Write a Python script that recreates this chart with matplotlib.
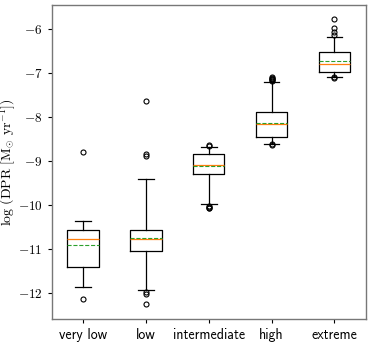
import numpy as np
import matplotlib
matplotlib.use("Agg")
import matplotlib.pyplot as plt
from matplotlib.ticker import FuncFormatter

plt.rcParams['mathtext.fontset'] = 'cm'

# box statistics
labels = ['very low', 'low', 'intermediate', 'high', 'extreme']
q1 = [-11.41, -11.04, -9.29, -8.45, -6.97]
q3 = [-10.57, -10.57, -8.85, -7.89, -6.52]
med = [-10.78, -10.78, -9.08, -8.16, -6.79]
mean = [-10.92, -10.76, -9.12, -8.13, -6.73]
whislo = [-11.88, -11.94, -9.97, -8.62, -7.09]
whishi = [-10.36, -9.41, -8.67, -7.21, -6.17]
fliers = [
    [-8.79, -12.14],
    [-7.63, -8.85, -8.89, -11.98, -12.03, -12.26],
    [-8.64, -8.66, -10.02, -10.04, -10.06, -10.08],
    [-7.08, -7.10, -7.12, -7.14, -7.16, -7.18, -8.62, -8.63],
    [-5.76, -5.96, -6.07, -6.13, -7.09, -7.11],
]

stats = []
for i in range(len(labels)):
    stats.append(dict(label=labels[i], q1=q1[i], q3=q3[i], med=med[i],
                      mean=mean[i], whislo=whislo[i], whishi=whishi[i],
                      fliers=fliers[i]))

fig = plt.figure(figsize=(3.74, 3.42), dpi=100)
ax = fig.add_axes([0.138, 0.067, 0.840, 0.919])

lw = 0.9
ax.bxp(stats, showmeans=True, meanline=True,
       boxprops=dict(color='black', linewidth=lw),
       whiskerprops=dict(color='black', linewidth=lw),
       capprops=dict(color='black', linewidth=lw),
       medianprops=dict(color='C1', linewidth=lw),
       meanprops=dict(color='C2', linestyle='--', linewidth=0.8),
       flierprops=dict(marker='o', markersize=3.6, markerfacecolor='none',
                       markeredgecolor='black', markeredgewidth=0.8))

ax.set_ylim(-12.6, -5.44)
ax.set_xlim(0.5, 5.5)
ax.set_yticks([-12, -11, -10, -9, -8, -7, -6])
ax.yaxis.set_major_formatter(FuncFormatter(lambda v, p: r'$%d$' % v))
ax.tick_params(width=0.8, length=3)
ax.tick_params(axis='y', labelsize=9.5)
ax.tick_params(axis='x', labelsize=10)
for t in ax.get_xticklabels():
    t.set_fontfamily('cmss10')
for s in ax.spines.values():
    s.set_color('#777777')
    s.set_linewidth(1.0)
ax.set_ylabel(r'$\log\,(\mathrm{DPR}\ [\mathrm{M}_{\odot}\ \mathrm{yr}^{-1}])$',
              fontsize=10)
ax.yaxis.set_label_coords(-0.108, 0.5)

fig.savefig('out.png', dpi=100)
